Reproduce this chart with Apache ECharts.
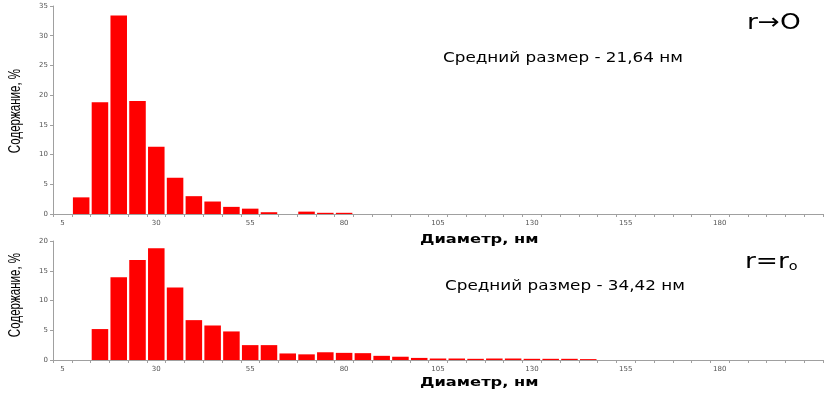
<!DOCTYPE html>
<html>
<head>
<meta charset="utf-8">
<script src="https://cdn.jsdelivr.net/npm/echarts@6/dist/echarts.min.js"></script>
<style>html,body{margin:0;padding:0;background:#fff;}#c{width:835px;height:397px;}</style>
</head>
<body>
<div id="c"></div>
<script>
const categories = ['5','10','15','20','25','30','35','40','45','50','55','60','65','70','75','80','85','90','95','100','105','110','115','120','125','130','135','140','145','150','155','160','165','170','175','180','185','190','195','200','205'];
const topValues = [0,2.8,18.8,33.4,19.0,11.3,6.1,3.0,2.1,1.2,0.9,0.3,0,0.4,0.2,0.2,0,0,0,0,0,0,0,0,0,0,0,0,0,0,0,0,0,0,0,0,0,0,0,0,0];
const bottomValues = [0,0,5.2,13.9,16.8,18.8,12.2,6.7,5.8,4.8,2.5,2.5,1.1,0.95,1.3,1.2,1.15,0.7,0.55,0.35,0.25,0.25,0.2,0.25,0.25,0.2,0.2,0.2,0.15,0,0,0,0,0,0,0,0,0,0,0,0];
const shownTickLabels = ['5','30','55','80','105','130','155','180'];
const topYTicks = {min:0, max:35, interval:5};
const bottomYTicks = {min:0, max:20, interval:5};
const xName = 'Диаметр, нм';
const yName = 'Содержание, %';
const topNote = 'Средний размер - 21,64 нм';
const bottomNote = 'Средний размер - 34,42 нм';
const topLabel = 'r→O';

const chart = echarts.init(document.getElementById('c'), null, {renderer:'canvas'});
const axisGray = '#a0a0a0';
function xAxis(gridIndex){
  return {
    type:'category', gridIndex, data:categories, boundaryGap:true,
    axisLine:{lineStyle:{color:axisGray, width:1}},
    axisTick:{show:true, interval:0, length:3, lineStyle:{color:axisGray}},
    axisLabel:{interval:(i, v) => shownTickLabels.indexOf(v) >= 0, fontSize:7, color:'#555', fontFamily:'DejaVu Sans', margin:6}
  };
}
function yAxis(gridIndex, t){
  return {
    type:'value', gridIndex, min:t.min, max:t.max, interval:t.interval,
    splitLine:{show:false},
    axisLine:{show:true, lineStyle:{color:axisGray}},
    axisTick:{show:true, length:3, lineStyle:{color:axisGray}},
    axisLabel:{fontSize:7, color:'#555', fontFamily:'DejaVu Sans', margin:5}
  };
}
function txt(x, y, text, size, opts){
  opts = opts || {};
  return {type:'text', x, y, scaleX:opts.scaleX || 1, rotation:opts.rotation || 0,
    style:Object.assign({text, fontSize:size, fontFamily:'DejaVu Sans', fill:'#000',
      textAlign:opts.align || 'left', textVerticalAlign:'middle', fontWeight:opts.bold ? 'bold' : 'normal'}, opts.style || {})};
}
chart.setOption({
  animation:false,
  grid:[
    {left:53, right:12, top:6, height:208},
    {left:53, right:12, top:241, height:119}
  ],
  xAxis:[xAxis(0), xAxis(1)],
  yAxis:[yAxis(0,topYTicks), yAxis(1,bottomYTicks)],
  series:[
    {type:'bar', xAxisIndex:0, yAxisIndex:0, data:topValues, barCategoryGap:'12%', itemStyle:{color:'#ff0000'}},
    {type:'bar', xAxisIndex:1, yAxisIndex:1, data:bottomValues, barCategoryGap:'12%', itemStyle:{color:'#ff0000'}}
  ],
  graphic:[
    txt(443, 58, topNote, 14, {scaleX:1.2}),
    txt(445, 286, bottomNote, 14, {scaleX:1.2}),
    txt(747, 23, topLabel, 22, {scaleX:1.2}),
    {type:'text', x:745, y:262, scaleX:1.2, style:{
      text:'{a|r=r}{b|o}', textVerticalAlign:'middle',
      rich:{a:{fontSize:22, fontFamily:'DejaVu Sans', color:'#000'}, b:{fontSize:12, fontFamily:'DejaVu Sans', color:'#000', verticalAlign:'bottom', padding:[10,0,0,0]}}
    }},
    txt(420, 240, xName, 13, {scaleX:1.25, bold:true}),
    txt(420, 383, xName, 13, {scaleX:1.25, bold:true}),
    txt(15, 111, yName, 17, {scaleX:0.68, rotation:Math.PI/2, align:'center', style:{fontFamily:'Liberation Sans'}}),
    txt(15, 295, yName, 17, {scaleX:0.68, rotation:Math.PI/2, align:'center', style:{fontFamily:'Liberation Sans'}})
  ]
});
</script>
</body>
</html>
